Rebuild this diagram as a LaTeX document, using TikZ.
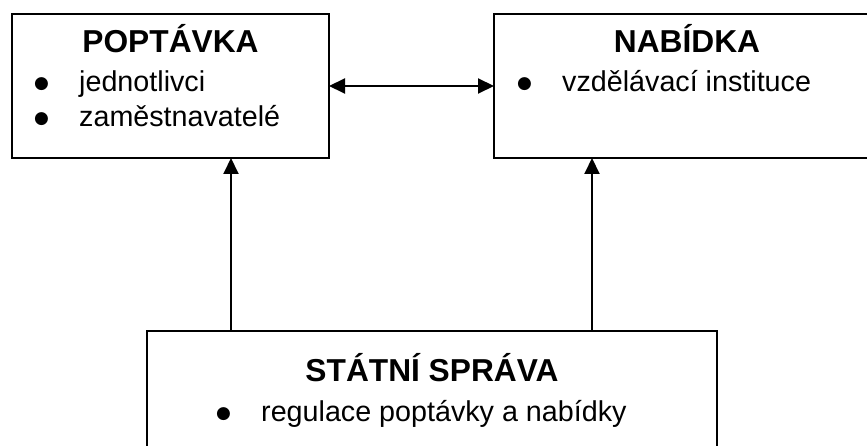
\documentclass[tikz,border=0pt]{standalone}
\usepackage{fontspec}
\setmainfont{Liberation Sans}
\newfontfamily\symfont{DejaVu Sans}
\usetikzlibrary{arrows.meta}
\newcommand\bul{\makebox[45pt][l]{\raisebox{3pt}{\symfont\fontsize{17}{17}\selectfont●}}}
\begin{document}
\begin{tikzpicture}[
  x=1pt, y=-1pt,
  >={Triangle[length=16pt,width=15pt]},
  box/.style={draw, line width=1.3pt, inner sep=0pt, outer sep=0pt, anchor=north west, minimum height=144pt},
  title/.style={anchor=base, inner sep=0pt, font=\fontsize{31.7}{36}\selectfont\bfseries},
  entry/.style={anchor=base west, inner sep=0pt, font=\fontsize{28.7}{35}\selectfont},
  arr/.style={line width=2pt, ->},
  dbl/.style={line width=2pt, <->}
]
\useasboundingbox (0,0) rectangle (867,446);
\clip (0,0) rectangle (867,446);
\node[box, minimum width=317pt] (poptavka) at (12,14) {};
\node[box, minimum width=386pt] (nabidka) at (494,14) {};
\node[box, minimum width=570pt, minimum height=160pt] (sprava) at (147,331) {};
\node[title] (poptavkaTitle) at ([yshift=-39pt]poptavka.north) {POPTÁVKA};
\node[entry] (jednotlivci) at ([xshift=22pt,yshift=-78pt]poptavka.north west) {\bul jednotlivci};
\node[entry] (zamestnavatele) at ([yshift=-35pt]jednotlivci.base west) {\bul zaměstnavatelé};
\node[title] (nabidkaTitle) at ([yshift=-39pt]nabidka.north) {NABÍDKA};
\node[entry] (instituce) at ([xshift=23pt,yshift=-78pt]nabidka.north west) {\bul vzdělávací instituce};
\node[title] (spravaTitle) at ([yshift=-50pt]sprava.north) {STÁTNÍ SPRÁVA};
\node[entry] (regulace) at ([xshift=69pt,yshift=-90pt]sprava.north west) {\bul regulace poptávky a nabídky};
\coordinate (leftfoot) at ([xshift=-201pt]sprava.north);
\coordinate (rightfoot) at ([xshift=160pt]sprava.north);
\draw[arr] (leftfoot) -- (leftfoot |- poptavka.south);
\draw[arr] (rightfoot) -- (rightfoot |- nabidka.south);
\draw[dbl] (poptavka.east) -- (nabidka.west);
\end{tikzpicture}
\end{document}
